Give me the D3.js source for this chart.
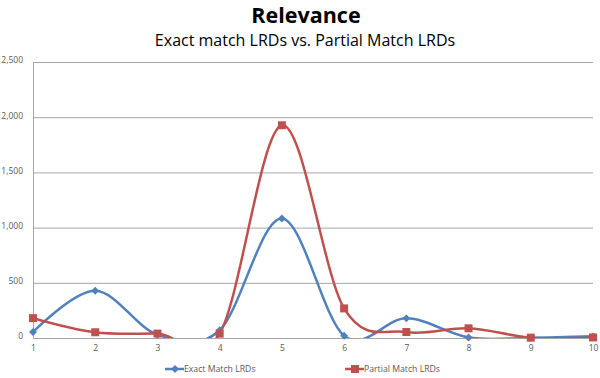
<!DOCTYPE html>
<html>
<head>
<meta charset="utf-8">
<script src="https://cdn.jsdelivr.net/npm/d3@7"></script>
<style>
  body { margin: 0; background: #fff; }
  text { font-family: "Open Sans", "Liberation Sans", sans-serif; }
</style>
</head>
<body>
<div id="chart"></div>
<script>
// data
var categories = [1, 2, 3, 4, 5, 6, 7, 8, 9, 10];
var exactMatch = [55, 428, 30, 70, 1082, 20, 178, 5, 2, 15];
var partialMatch = [180, 52, 40, 40, 1927, 268, 54, 88, 3, 5];
var yTicks = [0, 500, 1000, 1500, 2000, 2500];
var seriesNames = ["Exact Match LRDs", "Partial Match LRDs"];

var W = 600, H = 378;
var margin = {top: 62, right: 7, bottom: 40, left: 33};
var width = W - margin.left - margin.right;
var height = H - margin.top - margin.bottom;
var blue = "#4f81bd", red = "#c0504d";

var svg = d3.select("#chart").append("svg")
    .attr("width", W)
    .attr("height", H);

svg.append("text")
    .attr("x", 306).attr("y", 23)
    .attr("text-anchor", "middle")
    .style("font-size", "21.5px").style("font-weight", "bold")
    .text("Relevance");

svg.append("text")
    .attr("x", 305).attr("y", 46)
    .attr("text-anchor", "middle")
    .style("font-size", "16px")
    .text("Exact match LRDs vs. Partial Match LRDs");

var g = svg.append("g")
    .attr("transform", "translate(" + margin.left + "," + margin.top + ")");

var xScale = d3.scaleLinear().domain([1, 10]).range([0, width]);
var yScale = d3.scaleLinear().domain([0, 2500]).range([height, 0]);

// gridlines
g.append("g")
    .attr("class", "grid")
    .call(d3.axisLeft(yScale).tickValues(yTicks).tickSize(-width).tickFormat(""))
    .call(function(s) {
      s.select(".domain").remove();
      s.selectAll("line").attr("stroke", "#a6a6a6");
    });

// y axis
g.append("g")
    .call(d3.axisLeft(yScale).tickValues(yTicks).tickSize(0).tickPadding(10)
        .tickFormat(d3.format(",")))
    .call(function(s) {
      s.select(".domain").attr("stroke", "#a6a6a6");
      s.selectAll("text").attr("fill", "#595959").attr("dy", "0.1em")
          .style("font-size", "8.5px");
    });

// x axis
g.append("g")
    .attr("transform", "translate(0," + height + ")")
    .call(d3.axisBottom(xScale).tickValues(categories).tickSize(0).tickPadding(7))
    .call(function(s) {
      s.select(".domain").attr("stroke", "#a6a6a6");
      s.selectAll("text").attr("fill", "#595959").style("font-size", "8.5px");
    });

svg.append("clipPath").attr("id", "plot")
  .append("rect").attr("width", width).attr("height", height);

var line = d3.line()
    .x(function(d, i) { return xScale(categories[i]); })
    .y(function(d) { return yScale(d); })
    .curve(d3.curveCardinal.tension(0));

var plot = g.append("g").attr("clip-path", "url(#plot)");

function drawSeries(values, color, shape, size) {
  plot.append("path")
      .datum(values)
      .attr("fill", "none")
      .attr("stroke", color)
      .attr("stroke-width", 2.5)
      .attr("d", line);
  g.selectAll(null)
      .data(values)
      .enter().append("path")
      .attr("transform", function(d, i) {
        return "translate(" + xScale(categories[i]) + "," + yScale(d) + ")";
      })
      .attr("d", d3.symbol().type(shape).size(size))
      .attr("fill", color);
}

drawSeries(exactMatch, blue, d3.symbolDiamond2, 40);
drawSeries(partialMatch, red, d3.symbolSquare, 64);

// legend
var legend = svg.append("g").attr("transform", "translate(0,369)");
var legendItems = [
  {name: seriesNames[0], color: blue, shape: d3.symbolDiamond2, size: 40, x: 165},
  {name: seriesNames[1], color: red, shape: d3.symbolSquare, size: 64, x: 345}
];
legendItems.forEach(function(it) {
  legend.append("line")
      .attr("x1", it.x).attr("x2", it.x + 19)
      .attr("stroke", it.color).attr("stroke-width", 2.5);
  legend.append("path")
      .attr("transform", "translate(" + (it.x + 10) + ",0)")
      .attr("d", d3.symbol().type(it.shape).size(it.size))
      .attr("fill", it.color);
  legend.append("text")
      .attr("x", it.x + 19).attr("y", 3)
      .attr("fill", "#595959")
      .style("font-size", "8.7px")
      .text(it.name);
});
</script>
</body>
</html>
